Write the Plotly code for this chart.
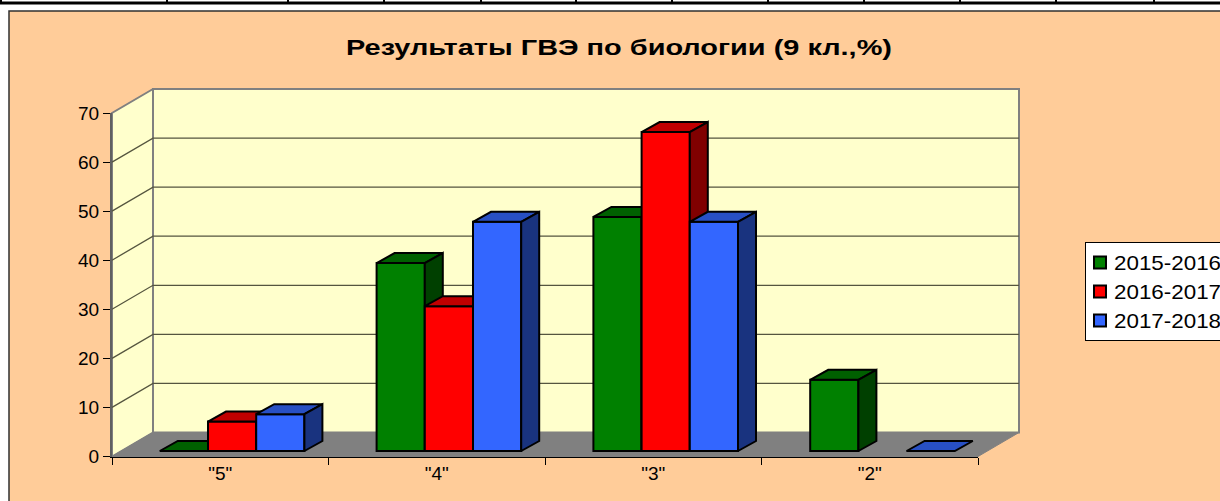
import plotly.graph_objects as go

# ---------- data ----------
categories = ['"5"', '"4"', '"3"', '"2"']
series_names = ["2015-2016", "2016-2017", "2017-2018"]
values_2015 = [0, 38.3, 47.7, 14.5]
values_2016 = [6, 29.5, 65, None]
values_2017 = [7.5, 46.7, 46.7, 0]
y_ticks = [0, 10, 20, 30, 40, 50, 60, 70]

front_colors = ["#008000", "#FF0000", "#3366FF"]
top_colors = ["#006000", "#C00000", "#2850C4"]
side_colors = ["#004000", "#800000", "#19337F"]

# ---------- geometry ----------
W, H = 1220, 501
X0, CAT_W = 112, 216.5          # px of axis start, px per category
Y0, UNIT = 456.5, 343.5 / 70    # px of value 0, px per value unit
FIG_X = [-X0 / CAT_W - 0.5, (W - X0) / CAT_W - 0.5]
FIG_Y = [(Y0 - H) / UNIT, Y0 / UNIT]

WALL_DX, WALL_DY = 41 / CAT_W, 24 / UNIT
BAR_DX, BAR_DY = 18 / CAT_W, 10 / UNIT
BAR_W = 48.2 / CAT_W
BAR_BASE = 5.5 / UNIT
GROUP_START = (159.8 - X0) / CAT_W - 0.5
GROUP_STEP = 216.8 / CAT_W
X_L, X_R = -0.5, 3.5
Y_MAX = y_ticks[-1]

fig = go.Figure()


def poly(xs, ys, fill, line, lw, idx):
    fig.add_trace(go.Scatter(
        x=xs + [xs[0]], y=ys + [ys[0]], mode="lines", fill="toself", fillcolor=fill,
        line=dict(color=line, width=lw), hoverinfo="skip", showlegend=False,
        xaxis=f"x{idx}", yaxis=f"y{idx}",
    ))


# walls and floor
WALL = "#FFFFCC"
GREY = "#808080"
poly([X_L, X_L + WALL_DX, X_L + WALL_DX, X_L], [0, WALL_DY, Y_MAX + WALL_DY, Y_MAX], WALL, GREY, 2, "")
poly([X_L + WALL_DX, X_R + WALL_DX, X_R + WALL_DX, X_L + WALL_DX],
     [WALL_DY, WALL_DY, Y_MAX + WALL_DY, Y_MAX + WALL_DY], WALL, GREY, 2, "")
poly([X_L, X_R, X_R + WALL_DX, X_L + WALL_DX], [0, 0, WALL_DY, WALL_DY], GREY, GREY, 1, "")

grid_x, grid_y = [], []
for v in y_ticks[1:-1]:
    grid_x += [X_L, X_L + WALL_DX, X_R + WALL_DX, None]
    grid_y += [v, v + WALL_DY, v + WALL_DY, None]
fig.add_trace(go.Scatter(x=grid_x, y=grid_y, mode="lines", line=dict(color="#55553F", width=1.3),
                         hoverinfo="skip", showlegend=False))

# bars, one overlapping subplot per series so later series cover earlier side faces
all_series = [values_2015, values_2016, values_2017]
for k, vals in enumerate(all_series):
    idx = k + 2
    lefts = [i * GROUP_STEP + GROUP_START + k * BAR_W for i in range(len(categories))]
    fig.add_trace(go.Bar(
        x=[l + BAR_W / 2 for l in lefts], y=vals, base=BAR_BASE, width=BAR_W, name=series_names[k],
        marker=dict(color=front_colors[k], line=dict(color="black", width=2)),
        hoverinfo="skip", xaxis=f"x{idx}", yaxis=f"y{idx}",
    ))
    for l, v in zip(lefts, vals):
        if v is None:
            continue
        top = BAR_BASE + v
        poly([l, l + BAR_W, l + BAR_W + BAR_DX, l + BAR_DX],
             [top, top, top + BAR_DY, top + BAR_DY], top_colors[k], "black", 2, idx)
        if v > 0:
            poly([l + BAR_W, l + BAR_W + BAR_DX, l + BAR_W + BAR_DX, l + BAR_W],
                 [BAR_BASE, BAR_BASE + BAR_DY, top + BAR_DY, top], side_colors[k], "black", 2, idx)

# real axes, on top
fig.add_trace(go.Scatter(x=categories, y=[None] * 4, mode="lines", hoverinfo="skip",
                         showlegend=False, xaxis="x5", yaxis="y5"))

FONT = "Liberation Sans, Arial, sans-serif"
hidden = dict(visible=False, fixedrange=True, domain=[0, 1])
layout = dict(
    width=W, height=H, margin=dict(l=0, r=0, t=0, b=0, pad=0, autoexpand=False), autosize=False,
    paper_bgcolor="white", plot_bgcolor="rgba(0,0,0,0)", barmode="overlay",
    font=dict(family=FONT, color="black", size=18),
    title=dict(text="<b>Результаты ГВЭ по биологии (9 кл.,%)</b>", x=619 / W, xanchor="center",
               y=1 - 47 / H, yanchor="middle", font=dict(size=22, family=FONT, color="black")),
    legend=dict(x=1085 / W, y=1 - 291.5 / H, xanchor="left", yanchor="middle", bgcolor="white",
                bordercolor="black", borderwidth=1, font=dict(size=20, family=FONT),
                itemclick=False, itemdoubleclick=False),
)
for n in ["", "2", "3", "4"]:
    layout[f"xaxis{n}"] = dict(hidden, range=FIG_X, anchor=f"y{n}")
    layout[f"yaxis{n}"] = dict(hidden, range=FIG_Y, anchor=f"x{n}")
layout["xaxis5"] = dict(
    type="category", categoryorder="array", categoryarray=categories, range=[-0.5, 3.5],
    domain=[X0 / W, (X0 + 4 * CAT_W) / W], anchor="y5", tickson="boundaries", ticks="outside",
    ticklen=7, tickcolor="black", tickwidth=1, showline=True, linecolor="black", linewidth=1,
    showgrid=False, zeroline=False, fixedrange=True, tickfont=dict(size=19, family=FONT),
)
layout["yaxis5"] = dict(
    range=[0, 70], tickvals=y_ticks, domain=[(H - Y0) / H, (H - 113) / H], anchor="x5",
    ticks="outside", ticklen=7, tickcolor="black", tickwidth=1, showline=True, linecolor="#606060",
    linewidth=2, showgrid=False, zeroline=False, fixedrange=True, tickfont=dict(size=19, family=FONT),
)


def rect(x0, y0, x1, y1, fill=None, line=None, lw=0):
    return dict(type="rect", xref="paper", yref="paper", layer="below",
                x0=x0 / W, x1=x1 / W, y0=1 - y0 / H, y1=1 - y1 / H,
                fillcolor=fill or "rgba(0,0,0,0)", line=dict(color=line or "rgba(0,0,0,0)", width=lw))


def seg(x0, y0, x1, y1, color="black", lw=2):
    return dict(type="line", xref="paper", yref="paper", layer="below",
                x0=x0 / W, x1=x1 / W, y0=1 - y0 / H, y1=1 - y1 / H, line=dict(color=color, width=lw))


shapes = [rect(9, 11, W + 5, H + 5, "#FFCC99", "#303030", 1.5), seg(0, 3, W, 3, "black", 3), seg(1, 0, 1, 3)]
for tx in [167, 288, 384, 481, 576, 672, 768, 864, 960, 1056, 1154]:
    shapes.append(seg(tx, 0, tx, 3))
layout["shapes"] = shapes

fig.update_layout(**layout)

# the reference is a horizontally stretched picture: stretch the real text the same way
POST = """
document.body.style.margin = '0';
function stretch(sel, s, dx) {
  document.querySelectorAll(sel).forEach(function (el) {
    var x = parseFloat(el.getAttribute('x')) || 0;
    var old = el.getAttribute('transform') || '';
    el.setAttribute('transform', old + ' translate(' + (x + (dx || 0)) + ',0) scale(' + s + ',1) translate(' + (-x) + ',0)');
  });
}
stretch('.gtitle', 1.315, 0);
stretch('.xtick text', 1.18, 0);
stretch('.ytick text', 1.08, 0);
stretch('.legendtext', 1.12, -12);
document.querySelectorAll('.legendpoints').forEach(function (el) {
  el.setAttribute('transform', (el.getAttribute('transform') || '') + ' translate(-6,0)');
});
"""
fig.write_html("out.html", config=dict(displayModeBar=False), post_script=POST)
